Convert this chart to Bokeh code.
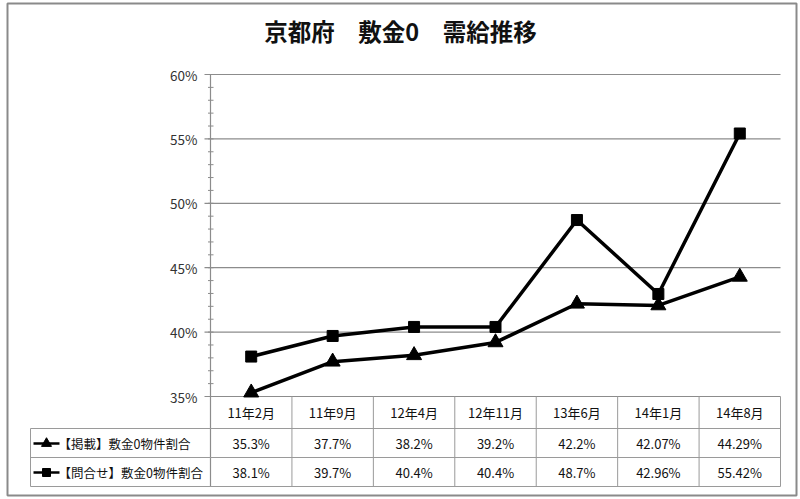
from bokeh.plotting import figure
from bokeh.embed import file_html
from bokeh.resources import INLINE
from bokeh.core.properties import value
from bokeh.models import Range1d

# ---------------- data ----------------
categories = ["11年2月", "11年9月", "12年4月", "12年11月", "13年6月", "14年1月", "14年8月"]
series_names = ["【掲載】敷金0物件割合", "【問合せ】敷金0物件割合"]
keisai = [35.3, 37.7, 38.2, 39.2, 42.2, 42.07, 44.29]
toiawase = [38.1, 39.7, 40.4, 40.4, 48.7, 42.96, 55.42]
keisai_labels = ["35.3%", "37.7%", "38.2%", "39.2%", "42.2%", "42.07%", "44.29%"]
toiawase_labels = ["38.1%", "39.7%", "40.4%", "40.4%", "48.7%", "42.96%", "55.42%"]
y_ticks = [35, 40, 45, 50, 55, 60]
y_tick_labels = ["35%", "40%", "45%", "50%", "55%", "60%"]
title_text = "京都府\u3000敷金0\u3000需給推移"

# ---------------- layout (page pixels -> data) ----------------
W, H = 800, 499
PAGE_OFF = 0
PLOT_LEFT = 210.0
COL_W = 81.43
Y_TOP_PX, Y_BOT_PX = 74.0, 396.0
Y_MIN, Y_MAX = 35.0, 60.0
PX_PER_UNIT = (Y_BOT_PX - Y_TOP_PX) / (Y_MAX - Y_MIN)


def dx(px):
    return (px - PLOT_LEFT) / COL_W


def dy(py):
    return Y_MAX - (py - Y_TOP_PX) / PX_PER_UNIT


FONT = value("Noto Sans CJK JP")

p = figure(width=W, height=H, output_backend="svg", toolbar_location=None,
           x_axis_type=None, y_axis_type=None, min_border=0,
           x_range=Range1d(dx(PAGE_OFF), dx(PAGE_OFF + W)),
           y_range=Range1d(dy(PAGE_OFF + H), dy(PAGE_OFF)))
p.outline_line_color = None
p.background_fill_color = "white"
p.border_fill_color = "white"

n = len(categories)
GRID = "#8c8c8c"
TABLE = "#9a9a9a"

# outer chart border
p.quad(left=[dx(7)], right=[dx(796)], top=[dy(3)], bottom=[dy(495)], fill_color=None,
       line_color="#8a8a8a", line_width=2)

# title
p.text(x=[dx(400)], y=[dy(30)], text=[title_text], text_font=FONT,
       text_font_size="23.5px", text_font_style="bold", text_color="#111111",
       text_align="center", text_baseline="middle")

# horizontal grid lines (extend slightly left of the axis like major ticks)
p.segment(x0=[dx(204)] * len(y_ticks), x1=[n] * len(y_ticks), y0=y_ticks, y1=y_ticks,
          line_color=GRID, line_width=1.2)
# minor ticks every 1%
minor = [v for v in range(35, 61)]
p.segment(x0=[dx(207.5)] * len(minor), x1=[dx(213)] * len(minor), y0=minor, y1=minor,
          line_color=GRID, line_width=1)
# y axis line (continues as the table's column line)
p.segment(x0=[0], x1=[0], y0=[dy(486)], y1=[Y_MAX], line_color=GRID, line_width=1.2)
# y tick labels
p.text(x=[dx(197)] * len(y_ticks), y=y_ticks, text=y_tick_labels, text_font=FONT,
       text_font_size="13.5px", text_color="#333333", text_align="right",
       text_baseline="middle")

# ---------------- table ----------------
row_lines_px = [428, 457, 486]
p.segment(x0=[dx(30)] * 3, x1=[n] * 3, y0=[dy(v) for v in row_lines_px],
          y1=[dy(v) for v in row_lines_px], line_color=TABLE, line_width=1)
p.segment(x0=list(range(1, n + 1)), x1=list(range(1, n + 1)), y0=[dy(486)] * n,
          y1=[Y_MIN] * n, line_color=TABLE, line_width=1)
p.segment(x0=[dx(30)], x1=[dx(30)], y0=[dy(428)], y1=[dy(486)], line_color=TABLE, line_width=1)

centers = [i + 0.5 for i in range(n)]
p.text(x=centers, y=[dy(412)] * n, text=categories, text_font=FONT, text_font_size="13px",
       text_color="#111111", text_align="center", text_baseline="middle")
p.text(x=centers, y=[dy(443)] * n, text=keisai_labels, text_font=FONT, text_font_size="13px",
       text_color="#111111", text_align="center", text_baseline="middle")
p.text(x=centers, y=[dy(472)] * n, text=toiawase_labels, text_font=FONT, text_font_size="13px",
       text_color="#111111", text_align="center", text_baseline="middle")

# legend keys
for row_py, marker, msize in [(443, "triangle", 10), (472, "square", 8)]:
    p.line(x=[dx(33), dx(59)], y=[dy(row_py), dy(row_py)], line_color="black", line_width=2.5)
    p.scatter(x=[dx(46)], y=[dy(row_py)], marker=marker, size=msize, fill_color="black",
              line_color="black")
p.text(x=[dx(58)] * 2, y=[dy(443), dy(472)], text=series_names, text_font=FONT,
       text_font_size="12.5px", text_color="#111111", text_align="left",
       text_baseline="middle")

# ---------------- series ----------------
p.line(x=centers, y=keisai, line_color="black", line_width=3.5)
p.scatter(x=centers, y=keisai, marker="triangle", size=15, fill_color="black", line_color="black")
p.line(x=centers, y=toiawase, line_color="black", line_width=3.5)
p.scatter(x=centers, y=toiawase, marker="square", size=11, fill_color="black", line_color="black")

open("out.html", "w").write(file_html(p, INLINE))
